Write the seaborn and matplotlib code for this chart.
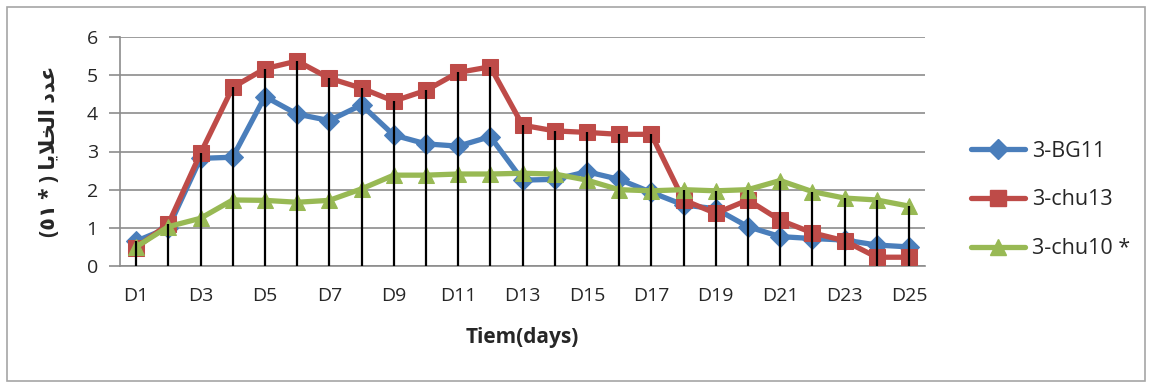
import matplotlib
matplotlib.use("Agg")
import matplotlib.pyplot as plt
import seaborn as sns
import pandas as pd
import numpy as np
from matplotlib.patches import Rectangle
from matplotlib.lines import Line2D

days = [f"D{i}" for i in range(1, 26)]
bg11 = [0.65, 1.0, 2.82, 2.85, 4.44, 3.98, 3.81, 4.22, 3.43, 3.2, 3.14, 3.39,
        2.25, 2.27, 2.47, 2.27, 1.93, 1.6, 1.5, 1.03, 0.77, 0.72, 0.68, 0.55, 0.5]
chu13 = [0.48, 1.1, 2.95, 4.68, 5.17, 5.37, 4.92, 4.66, 4.32, 4.6, 5.07, 5.22,
         3.69, 3.54, 3.5, 3.45, 3.45, 1.73, 1.38, 1.73, 1.2, 0.87, 0.66, 0.23, 0.23]
chu10 = [0.5, 1.03, 1.25, 1.73, 1.72, 1.67, 1.72, 2.02, 2.38, 2.38, 2.41, 2.41,
         2.43, 2.41, 2.25, 2.0, 1.97, 2.0, 1.97, 2.0, 2.24, 1.95, 1.78, 1.73, 1.57]
series_names = ["3-BG11", "3-chu13", "3-chu10 *"]
colors = ["#4A7EBB", "#BE4B48", "#98B954"]
markers = ["D", "s", "^"]
msizes = [10, 12, 12]

# Arabic y-label in visual (pre-shaped) order: "عدد الخلايا (* ١٠٥)"
ylabel_text = "(٥١ * ) " + "\uFE8E\uFEF3\uFEFC\uFEA8\uFEDF\uFE8D" + " " + "\uFEA9\uFEAA\uFECB"

df = pd.DataFrame({"day": days * 3,
                   "value": bg11 + chu13 + chu10,
                   "series": sum([[n] * len(days) for n in series_names], [])})

sns.set_style("white")
plt.rcParams["font.family"] = ["Open Sans", "DejaVu Sans"]

fig = plt.figure(figsize=(11.52, 3.88), dpi=100)
ax = fig.add_axes([120 / 1152, 1 - 266 / 388, 805 / 1152, 229 / 388])

x = np.arange(len(days))
for name, col, mk, ms in zip(series_names, colors, markers, msizes):
    sub = df[df["series"] == name]
    sns.lineplot(x=x, y=sub["value"].values, ax=ax, color=col, lw=3.8,
                 marker=mk, markersize=ms, markeredgecolor=col, label=name,
                 legend=False, zorder=3)

# drop lines to the highest point
mx = np.max(np.vstack([bg11, chu13, chu10]), axis=0)
ax.vlines(x, 0, mx, color="black", lw=1.6, zorder=4)

ax.set_xlim(-0.5, len(days) - 0.5)
ax.set_ylim(0, 6)
ax.set_yticks(range(0, 7))
ax.yaxis.grid(True, color="#8c8c8c", lw=1.2)
ax.set_axisbelow(True)
ax.set_xticks(x[::2])
ax.set_xticklabels(days[::2])
for s in ["top", "right"]:
    ax.spines[s].set_visible(False)
for s in ["left", "bottom"]:
    ax.spines[s].set_color("#8c8c8c")
    ax.spines[s].set_linewidth(1.2)
ax.tick_params(axis="y", length=8, width=1.2, color="#8c8c8c", pad=8, labelsize=14, left=True)
ax.tick_params(axis="x", length=0, pad=15, labelsize=14)
ax.set_xlabel("Tiem(days)", fontsize=15, fontweight="bold", labelpad=16)
ax.set_ylabel(ylabel_text, fontsize=15, fontweight="bold", labelpad=19)

handles = [Line2D([0], [0], color=c, lw=3.8, marker=m, markersize=ms, markeredgecolor=c)
           for c, m, ms in zip(colors, markers, msizes)]
fig.legend(handles, series_names, loc="center left", bbox_to_anchor=(952 / 1152, 1 - 200 / 388),
           frameon=False, fontsize=15.5, handlelength=2.5, handletextpad=0.3, labelspacing=1.3,
           numpoints=1)

fig.patches.append(Rectangle((7 / 1152, 7 / 388), 1138 / 1152, 374 / 388,
                             transform=fig.transFigure, fill=False,
                             edgecolor="#a6a6a6", lw=1.2))

fig.savefig("out.png", dpi=100)
